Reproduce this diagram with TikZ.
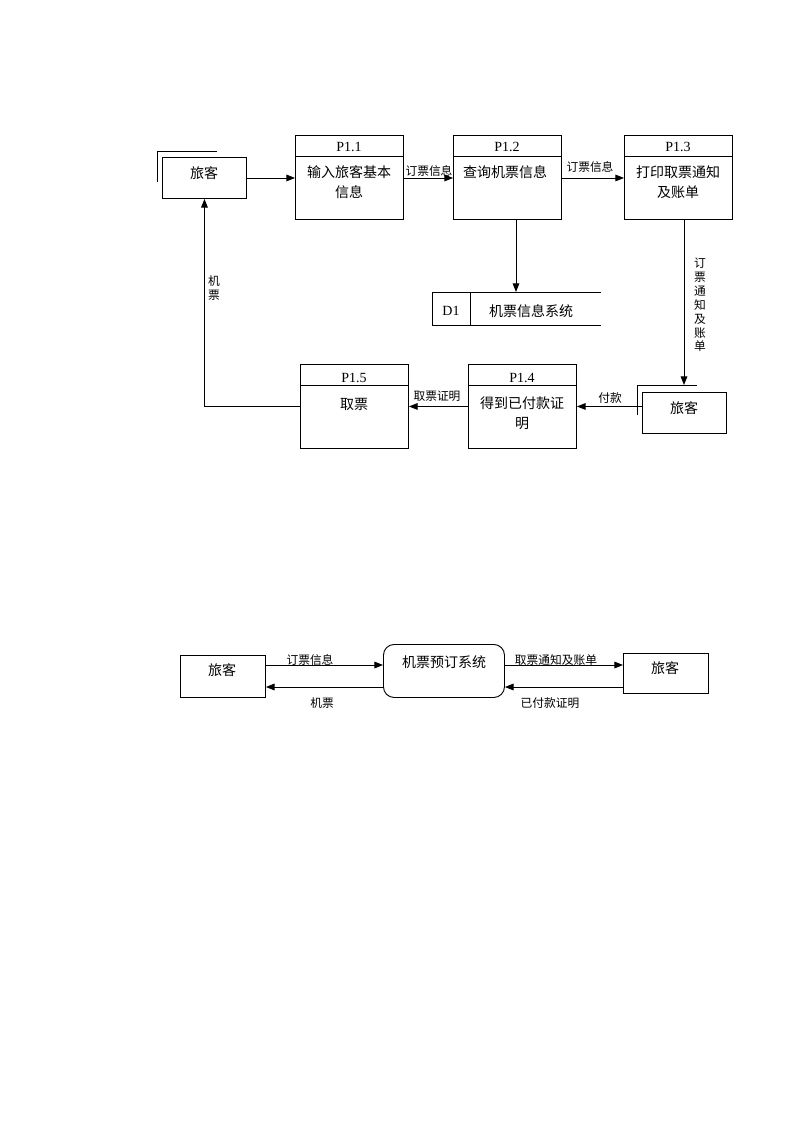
\documentclass[tikz,border=0pt]{standalone}
\usepackage{fontspec}
\setmainfont{Liberation Serif}
\newfontfamily\cjk{Noto Sans CJK SC}
\usetikzlibrary{arrows.meta,calc}
\begin{document}
\begin{tikzpicture}[x=0.75pt,y=-0.75pt, line width=0.7pt,
 arr/.style={-{Triangle[length=6.5pt,width=5pt]}},
 ent/.style={draw, minimum width=63pt, minimum height=30.75pt, anchor=north west, inner sep=0},
 proc/.style={draw, minimum width=81pt, minimum height=63pt, anchor=north west, inner sep=0},
 txt/.style={font=\cjk\fontsize{10.5}{15}\selectfont, inner sep=0, align=center},
 lbl/.style={font=\cjk\fontsize{8.8}{10.4}\selectfont, inner sep=0, align=center},
 pid/.style={font=\fontsize{10.5}{12}\selectfont, inner sep=0}]
\useasboundingbox (0,0) rectangle (793,1122);

% ---------- top diagram ----------
\node[ent] (e1) at (162,157) {};
\node[txt] (e1t) at (204,173) {旅客};
\draw ($(e1.north west)+(-5,25)$) -- ($(e1.north west)+(-5,-6)$) -- ($(e1.north west)+(55,-6)$);

\node[proc] (p11) at (295,135) {};
\draw ($(p11.north west)+(0,21)$) -- ($(p11.north east)+(0,21)$);
\node[pid] (p11id) at (349,147) {P1.1};
\node[txt] (p11t) at (349,182) {输入旅客基本\\信息};

\node[proc] (p12) at (453,135) {};
\draw ($(p12.north west)+(0,21)$) -- ($(p12.north east)+(0,21)$);
\node[pid] (p12id) at (507,147) {P1.2};
\node[txt] (p12t) at (505,172) {查询机票信息};

\node[proc] (p13) at (624,135) {};
\draw ($(p13.north west)+(0,21)$) -- ($(p13.north east)+(0,21)$);
\node[pid] (p13id) at (678,147) {P1.3};
\node[txt] (p13t) at (678,182) {打印取票通知\\及账单};

\node[minimum width=126pt, minimum height=24.75pt, anchor=north west, inner sep=0] (d1) at (432,292) {};
\draw (d1.north west) -- (d1.north east);
\draw (d1.south west) -- (d1.south east);
\draw (d1.north west) -- (d1.south west);
\draw ($(d1.north west)+(38,0)$) -- ($(d1.south west)+(38,0)$);
\node[pid] (d1id) at (451,311) {D1};
\node[txt] (d1t) at (531,311) {机票信息系统};

\node[ent] (e2) at (642,392) {};
\node[txt] (e2t) at (684,408) {旅客};
\draw ($(e2.north west)+(-5,23)$) -- ($(e2.north west)+(-5,-7)$) -- ($(e2.north west)+(55,-7)$);
\coordinate (e2top) at ($(e2.north west)+(42,-7)$);

\node[proc] (p14) at (468,364) {};
\draw ($(p14.north west)+(0,21)$) -- ($(p14.north east)+(0,21)$);
\node[pid] (p14id) at (522,378) {P1.4};
\node[txt] (p14t) at (522,413) {得到已付款证\\明};

\node[proc] (p15) at (300,364) {};
\draw ($(p15.north west)+(0,21)$) -- ($(p15.north east)+(0,21)$);
\node[pid] (p15id) at (354,378) {P1.5};
\node[txt] (p15t) at (354,404) {取票};

% connectors
\draw[arr] (e1.east) -- (p11.west |- e1.east);
\draw[arr] (p11.east |- e1.east) -- (p12.west |- e1.east);
\draw[arr] (p12.east |- e1.east) -- (p13.west |- e1.east);
\draw[arr] ($(p12.south west)+(63,0)$) -- ($(d1.north west)+(84,0)$);
\draw[arr] ($(p13.south west)+(60,0)$) -- (e2top);
\draw[arr] (e2.west |- p14.east) -- (p14.east);
\draw[arr] (p14.west) -- (p15.east);
\draw[arr] (p15.west) -| (e1.south);

\node[lbl] (l1) at (429,171) {订票信息};
\node[lbl] (l2) at (590,167) {订票信息};
\node[lbl] (l3) at (700,305) {订\\票\\通\\知\\及\\账\\单};
\node[lbl] (l4) at (610,398) {付款};
\node[lbl] (l5) at (437,396) {取票证明};
\node[lbl] (l6) at (214,288) {机\\票};

% ---------- context diagram ----------
\node[draw, minimum width=63.75pt, minimum height=31.5pt, anchor=north west, inner sep=0] (b1) at (180,655) {};
\node[txt] (b1t) at (222,670) {旅客};
\node[draw, rounded corners=8pt, minimum width=90.75pt, minimum height=39.75pt, anchor=north west, inner sep=0] (sys) at (383,644) {};
\node[txt] (syst) at (444,662) {机票预订系统};
\node[draw, minimum width=63.75pt, minimum height=30pt, anchor=north west, inner sep=0] (b2) at (623,653) {};
\node[txt] (b2t) at (665,668) {旅客};

\draw[arr] ($(b1.north east)+(0,10)$) -- ($(sys.north west)+(0,21)$);
\draw[arr] ($(sys.north west)+(0,43)$) -- ($(b1.north east)+(0,32)$);
\draw[arr] ($(sys.north east)+(0,21)$) -- ($(b2.north west)+(0,12)$);
\draw[arr] ($(b2.north west)+(0,34)$) -- ($(sys.north east)+(0,43)$);

\node[lbl] (m1) at (310,660) {订票信息};
\node[lbl] (m2) at (322,703) {机票};
\node[lbl] (m3) at (556,660) {取票通知及账单};
\node[lbl] (m4) at (550,703) {已付款证明};
\end{tikzpicture}
\end{document}
